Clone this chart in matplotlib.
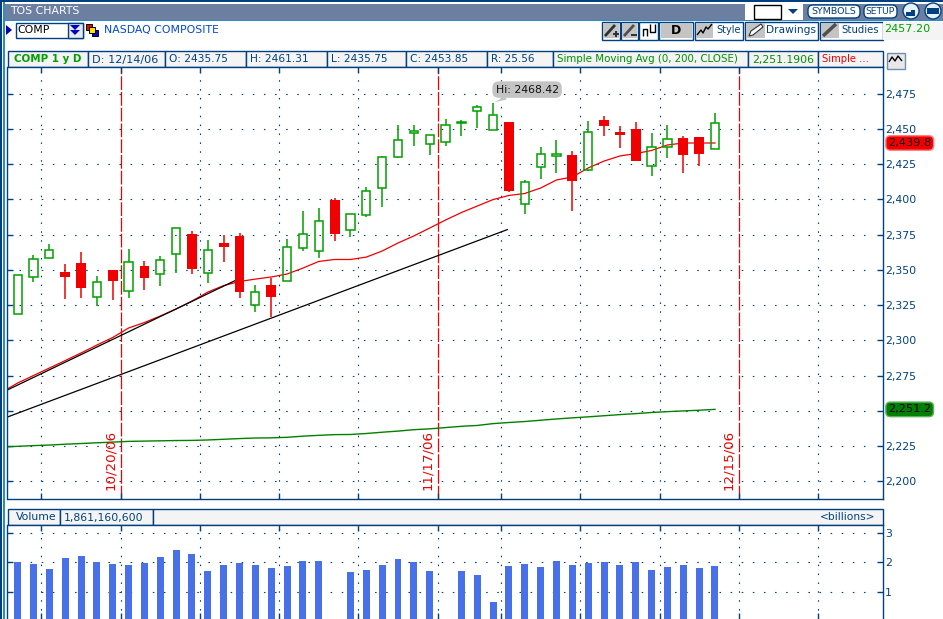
import matplotlib
matplotlib.use("Agg")
import matplotlib.pyplot as plt
from matplotlib.patches import Rectangle, FancyBboxPatch, Polygon, Circle

W, H = 943, 619
NAVY = "#004080"
UP = "#00A000"
DOWN = "#F00000"

opens = [2318.3, 2344.6, 2358.0, 2348.3, 2354.7, 2331.0, 2349.8, 2335.3, 2352.6, 2346.7,
         2360.9, 2375.3, 2347.4, 2368.9, 2373.9, 2324.7, 2339.1, 2341.7, 2365.6, 2363.5,
         2399.2, 2378.4, 2389.0, 2408.2, 2429.9, 2447.2, 2439.4, 2440.5, 2454.0, 2462.8,
         2449.3, 2454.5, 2396.8, 2423.0, 2430.6, 2431.1, 2420.9, 2455.9, 2447.4, 2449.5,
         2423.5, 2437.2, 2443.1, 2443.9, 2435.75]
closes = [2346.0, 2357.3, 2363.7, 2345.0, 2337.2, 2341.0, 2342.2, 2355.2, 2344.3, 2356.6,
          2379.3, 2350.7, 2363.7, 2366.3, 2334.4, 2333.9, 2330.9, 2365.8, 2375.5, 2384.8,
          2375.3, 2389.7, 2406.0, 2430.1, 2442.2, 2448.6, 2445.7, 2452.8, 2455.0, 2465.6,
          2459.9, 2405.8, 2412.4, 2432.3, 2431.8, 2412.9, 2447.9, 2451.9, 2445.5, 2427.0,
          2437.2, 2442.9, 2431.3, 2432.0, 2453.85]
highs = [2346.0, 2360.4, 2368.2, 2354.0, 2362.5, 2345.5, 2349.8, 2364.4, 2356.0, 2359.7,
         2379.3, 2377.2, 2371.0, 2374.6, 2376.0, 2339.1, 2344.3, 2371.5, 2391.4, 2393.5,
         2401.0, 2389.7, 2408.9, 2430.9, 2452.4, 2453.0, 2445.7, 2457.0, 2456.4, 2467.0,
         2468.42, 2454.5, 2414.0, 2436.8, 2441.7, 2434.4, 2455.7, 2459.2, 2451.7, 2455.0,
         2447.2, 2453.0, 2444.6, 2443.9, 2461.31]
lows = [2318.3, 2341.5, 2358.0, 2329.2, 2330.0, 2324.5, 2328.7, 2330.0, 2335.8, 2338.7,
        2347.9, 2347.2, 2340.8, 2355.7, 2330.1, 2320.2, 2316.7, 2341.7, 2363.2, 2358.3,
        2370.3, 2373.2, 2387.4, 2394.4, 2429.2, 2437.7, 2431.3, 2437.7, 2444.8, 2450.5,
        2449.3, 2405.0, 2389.5, 2414.3, 2418.6, 2392.0, 2420.0, 2444.8, 2436.3, 2427.0,
        2416.4, 2429.2, 2418.6, 2423.5, 2435.75]
# starts one bar left of the first candle so the lines run off the pane edge
sma_short = [2263.3, 2269.7, 2275.0, 2280.3, 2285.6, 2291.0, 2296.6, 2302.0, 2308.7, 2312.6,
             2317.2, 2322.2, 2327.8, 2334.2, 2338.8, 2341.7, 2343.4, 2344.9, 2347.0, 2351.2,
             2355.9, 2357.3, 2357.3, 2359.0, 2363.3, 2369.0, 2374.0, 2379.6, 2385.3, 2390.6,
             2395.2, 2399.8, 2402.7, 2404.1, 2408.0, 2413.7, 2415.8, 2422.2, 2427.1, 2430.7,
             2432.4, 2434.6, 2438.5, 2439.9, 2439.9, 2439.9]
sma_200 = [2224.3, 2224.8, 2225.3, 2225.7, 2226.3, 2226.8, 2227.3, 2227.8, 2228.3, 2228.5,
           2228.7, 2228.9, 2229.0, 2229.3, 2229.8, 2230.3, 2230.7, 2230.8, 2231.2, 2232.0,
           2232.6, 2233.1, 2233.2, 2233.9, 2234.8, 2235.6, 2236.6, 2237.2, 2238.1, 2239.0,
           2239.6, 2240.9, 2241.7, 2242.4, 2243.3, 2244.2, 2245.0, 2245.7, 2246.5, 2247.3,
           2248.0, 2248.8, 2249.4, 2249.9, 2250.4, 2251.0]
# two missing sessions are None
volume = [2.01, 1.94, 1.77, 2.15, 2.21, 2.01, 1.94, 1.91, 1.98, 2.18,
          2.42, 2.28, 1.71, 1.91, 1.98, 1.91, 1.81, 1.88, 2.05, 2.05,
          None, 1.67, 1.74, 1.91, 2.11, 2.01, 1.71, None, 1.71, 1.57,
          0.66, 1.88, 1.94, 1.84, 2.05, 1.91, 1.98, 2.01, 1.91, 2.01,
          1.74, 1.84, 1.91, 1.81, 1.88]
trend_upper_x = [-0.64, 14.2]
trend_upper_y = [2264.8, 2344.9]
trend_lower_x = [-0.64, 30.9]
trend_lower_y = [2245.6, 2378.5]

price_ticks = [2200, 2225, 2250, 2275, 2300, 2325, 2350, 2375, 2400, 2425, 2450, 2475]
volume_ticks = [1, 2, 3]
grid_x = [1.5, 11.5, 16.5, 21.5, 30.5, 35.5, 40.5, 50.5]
date_x = [6.5, 26.5, 45.5]
date_labels = ["10/20/06", "11/17/06", "12/15/06"]
header_cells = [(8, 88), (88, 165), (165, 246), (246, 327), (327, 406), (406, 487),
                (487, 553), (553, 748), (748, 818), (818, 882.5)]
header_text = ["COMP 1 y D", "D: 12/14/06", "O: 2435.75", "H: 2461.31", "L: 2435.75",
               "C: 2453.85", "R: 25.56", "Simple Moving Avg (0, 200, CLOSE)", "2,251.1906",
               "Simple ..."]
header_colors = [UP, NAVY, NAVY, NAVY, NAVY, NAVY, NAVY, "#009000", "#009000", DOWN]
header_sizes = [7.4, 8.1, 7.7, 7.7, 7.7, 7.7, 7.5, 7.4, 7.8, 7.2]

# bar index <-> pixel: x = 17.6 + 15.85 * i
XLIM = (-0.64, 54.57)


def pane(fig, left, top, right, bottom):
    return fig.add_axes([left / W, 1 - bottom / H, (right - left) / W, (bottom - top) / H])


def box(ax, x0, y0, x1, y1, fc="none", ec=NAVY, lw=1.0, z=2):
    ax.add_patch(Rectangle((x0, y0), x1 - x0, y1 - y0, fc=fc, ec=ec, lw=lw, zorder=z))


def pill(ax, x0, y0, x1, y1, fc, ec, pad=5):
    ax.add_patch(FancyBboxPatch((x0 + pad, y0 + pad), x1 - x0 - 2 * pad, y1 - y0 - 2 * pad,
                                boxstyle=f"round,pad={pad}", fc=fc, ec=ec, lw=1.0, zorder=3))


def icon_line(bg, xs, ys, color="#303030", lw=1.0):
    bg.plot(xs, ys, color=color, lw=lw, zorder=4, solid_capstyle="butt")


def draw_icons(bg):
    # rough versions of the toolbar glyphs
    icon_line(bg, [605, 615], [36, 25], lw=2)
    icon_line(bg, [613, 619], [34, 34], lw=1.4)
    icon_line(bg, [616, 616], [31, 37], lw=1.4)
    icon_line(bg, [624, 634], [36, 25], color="#505050", lw=2)
    icon_line(bg, [631, 637], [35, 35], lw=1.4)
    icon_line(bg, [643, 643, 647, 647], [36, 29, 29, 36], color="black")
    icon_line(bg, [650, 650, 655, 655], [24, 32, 32, 24], color="black")
    icon_line(bg, [697, 701, 703, 706, 708, 712], [35, 30, 33, 27, 29, 24], color="black")
    bg.add_patch(Polygon([(749, 36), (751, 31), (761, 24), (763, 27), (753, 35)],
                         fc="white", ec="#303030", lw=0.8, zorder=4))
    icon_line(bg, [823, 836], [36, 24], color="#505050", lw=2.5)
    icon_line(bg, [889, 892, 895, 898, 902], [62, 57, 61, 56, 61], color="black")


def draw_chrome(bg):
    bg.set_xlim(0, W)
    bg.set_ylim(H, 0)
    bg.axis("off")
    # frame stripes and title bar
    box(bg, 0, 0, 1.5, H, fc=NAVY, ec="none")
    box(bg, 3, 0, 5, H, fc="#2A8CC8", ec="none")
    box(bg, 0, 0, W, 1.5, fc=NAVY, ec="none")
    box(bg, 5, 4, W, 20, fc="#6C7FA0", ec="none")
    box(bg, 5, 20, W, 21, fc="#2A8CC8", ec="none")
    bg.text(10, 11.5, "TOS CHARTS", color="white", fontsize=7.8, va="center")

    # symbol box
    bg.add_patch(Polygon([(6, 25), (12, 30), (6, 35)], fc="#0000B0", ec="none"))
    box(bg, 15.5, 22.5, 82.5, 37.5, fc="white")
    box(bg, 67.5, 22.5, 82.5, 37.5, fc="#E8E8F0")
    bg.add_patch(Polygon([(70, 25), (80, 25), (75, 30)], fc="#0000C0", ec="none", zorder=3))
    bg.add_patch(Polygon([(70, 30), (80, 30), (75, 35)], fc="#0000C0", ec="none", zorder=3))
    bg.text(17, 30, "COMP", color="black", fontsize=7.8, va="center", zorder=3)
    box(bg, 85.5, 23.5, 91.5, 29.5, fc="#F00000", ec="black", lw=0.7)
    box(bg, 88.5, 26.5, 94.5, 32.5, fc="#FFE000", ec="black", lw=0.7, z=3)
    box(bg, 91.5, 29.5, 97.5, 35.5, fc="#0000E0", ec="black", lw=0.7, z=2.5)
    bg.text(104, 30, "NASDAQ COMPOSITE", color="#0048D0", fontsize=7.8, va="center")

    # title bar controls
    box(bg, 745, 4, 803, 20, fc="white", ec="none")
    box(bg, 753.5, 4.5, 780.5, 18.5, fc="white", ec="black", lw=1.0)
    bg.add_patch(Polygon([(788, 9), (798, 9), (793, 14)], fc=NAVY, ec="none", zorder=3))
    pill(bg, 808, 5, 860, 18, "white", NAVY)
    bg.text(834, 11.5, "SYMBOLS", color=NAVY, fontsize=6.8, ha="center", va="center", zorder=4)
    pill(bg, 864, 5, 897, 18, "white", NAVY)
    bg.text(880.5, 11.5, "SETUP", color=NAVY, fontsize=6.6, ha="center", va="center", zorder=4)
    for cx in (911, 933):
        bg.add_patch(Circle((cx, 11), 8, fc="#E8F0F8", ec=NAVY, lw=1.0, zorder=3))
    box(bg, 906, 10, 915, 16, fc=NAVY, ec="none", z=4)
    box(bg, 906, 6, 911, 12, fc="#E8F0F8", ec="none", z=4.5)
    box(bg, 927, 8, 939, 14, fc=NAVY, ec="none", z=4)

    # toolbar buttons
    for x0, x1 in [(601.5, 620), (621, 638), (639, 658), (659, 693), (694.5, 743), (744.5, 818), (819.5, 882.5)]:
        box(bg, x0, 21.5, x1, 39.5, fc="white")
    for x0, x1 in [(603, 619), (622, 637), (661, 692), (696, 713), (746, 765), (821, 839)]:
        box(bg, x0, 23, x1, 38, fc="#C4C4C4", ec="none", z=3)
    bg.text(676.5, 30.5, "D", color="black", fontsize=9, fontweight="bold", ha="center", va="center", zorder=4)
    bg.text(716, 30, "Style", color=NAVY, fontsize=7.0, va="center")
    bg.text(766, 30, "Drawings", color=NAVY, fontsize=7.7, va="center")
    bg.text(841, 30, "Studies", color=NAVY, fontsize=7.3, va="center")
    box(bg, 883, 21.5, 943, 39.5, fc="#F4F4F4", ec="none")
    bg.text(884, 28.5, "2457.20", color="#00A000", fontsize=8.0, va="center", zorder=3)
    draw_icons(bg)

    # study header row
    for (x0, x1), label, color, size in zip(header_cells, header_text, header_colors, header_sizes):
        box(bg, x0, 51, x1, 67, fc="#F4F4F4")
        bold = label.startswith("COMP")
        bg.text((x0 + x1) / 2 if bold else x0 + 4, 59.5, label, color=color, fontsize=size,
                fontweight="bold" if bold else "normal", ha="center" if bold else "left",
                va="center", zorder=3)
    box(bg, 886.5, 52.5, 904.5, 68.5, fc="#E8E8E8", ec="#7090B0")

    # volume header row
    for x0, x1 in [(8, 60), (60, 153), (153, 882.5)]:
        box(bg, x0, 509, x1, 525, fc="#F4F4F4")
    bg.text(16, 517.5, "Volume", color=NAVY, fontsize=7.8, va="center", zorder=3)
    bg.text(64, 517.5, "1,861,160,600", color=NAVY, fontsize=7.8, va="center", zorder=3)
    bg.text(875, 517.5, "<billions>", color=NAVY, fontsize=7.7, ha="right", va="center", zorder=3)


def style_pane(ax, yticks, labels):
    ax.set_xlim(*XLIM)
    for name in ("top", "left", "right", "bottom"):
        ax.spines[name].set_color(NAVY)
        ax.spines[name].set_linewidth(1.0)
    ax.yaxis.tick_right()
    ax.set_yticks(yticks, labels)
    ax.tick_params(axis="y", direction="in", length=4, width=1, color=NAVY, labelcolor=NAVY,
                   labelsize=7.8, pad=1.8, left=True)
    ax.tick_params(axis="x", direction="in", length=4, width=1, color=NAVY, top=True, labelbottom=False)
    ax.set_xticks(grid_x + date_x)
    # dotted grid stops short of both edges, as in the platform
    ax.hlines(yticks, XLIM[0] + 0.75, 53.6, colors=NAVY, lw=0.8, ls=(0, (1.4, 8.6)), zorder=1)
    ax.vlines(grid_x, *ax.get_ylim(), colors=NAVY, lw=0.8, ls=(0, (1.4, 6.6)), zorder=1)


def draw_price(ax):
    ax.set_ylim(2187.8, 2493.8)
    # the 2,250 label is hidden behind the last-value tag in the reference
    labels = ["" if p == 2250 else f"{p:,}" for p in price_ticks]
    style_pane(ax, price_ticks, labels)
    ax.vlines(date_x, *ax.get_ylim(), colors=DOWN, lw=0.9, ls=(0, (11, 1.6)), zorder=1.5)
    for x, label in zip(date_x, date_labels):
        ax.annotate(label, (x, 2194), xytext=(-2.5, 0), textcoords="offset points", rotation=90,
                    ha="right", va="bottom", color=DOWN, fontsize=9.6)

    xs = list(range(-1, 45))
    ax.plot(xs, sma_200, color="#008000", lw=1.0, zorder=2)
    ax.plot(xs, sma_short, color=DOWN, lw=0.9, zorder=2)
    ax.plot(trend_upper_x, trend_upper_y, color="black", lw=0.9, zorder=2.2)
    ax.plot(trend_lower_x, trend_lower_y, color="black", lw=0.9, zorder=2.2)

    for i, (o, h, l, c) in enumerate(zip(opens, highs, lows, closes)):
        top, bot = max(o, c), min(o, c)
        if c >= o:
            ax.vlines(i, top, h, colors=UP, lw=1.1, zorder=3)
            ax.vlines(i, l, bot, colors=UP, lw=1.1, zorder=3)
            ax.bar(i, top - bot, bottom=bot, width=0.52, fc="none", ec=UP, lw=1.1, zorder=3)
        else:
            ax.vlines(i, l, h, colors=DOWN, lw=1.1, zorder=3)
            ax.bar(i, top - bot, bottom=bot, width=0.62, color=DOWN, lw=0, zorder=3)

    ax.annotate("Hi: 2468.42", (30, highs[30]), xytext=(24.5, 9.5), textcoords="offset points",
                ha="center", va="center", color="#101010", fontsize=7.8,
                bbox=dict(boxstyle="round,pad=0.3,rounding_size=0.6", fc="#C4C4C4", ec="none"),
                arrowprops=dict(arrowstyle="wedge,tail_width=0.35", fc="#C4C4C4", ec="none",
                                shrinkA=0, shrinkB=1), zorder=5)

    # last-value tags sit in the tick label column
    tag_x = ax.get_yaxis_transform()
    ax.text(1.0064, sma_short[-1], "2,439.8", transform=tag_x, color="#200000", fontsize=8.2,
            va="center", clip_on=False,
            bbox=dict(boxstyle="round,pad=0.2,rounding_size=0.4", fc="#F00000", ec="#FF8080", lw=1), zorder=5)
    ax.text(1.0064, sma_200[-1], "2,251.2", transform=tag_x, color="black", fontsize=8.2,
            va="center", clip_on=False,
            bbox=dict(boxstyle="round,pad=0.2,rounding_size=0.4", fc="#008000", ec="#60B060", lw=1), zorder=5)


def draw_volume(ax):
    ax.set_ylim(0.08, 3.26)
    style_pane(ax, volume_ticks, [str(v) for v in volume_ticks])
    ax.vlines(date_x, *ax.get_ylim(), colors=NAVY, lw=0.8, ls=(0, (1.4, 6.6)), zorder=1)
    ax.spines["bottom"].set_visible(False)
    for i, v in enumerate(volume):
        if v is not None:
            ax.bar(i, v, width=0.44, color="#4870E8", lw=0, zorder=2)


def main() -> None:
    plt.rcParams["font.family"] = ["DejaVu Sans"]
    fig = plt.figure(figsize=(W / 100, H / 100), dpi=100, facecolor="white")
    bg = fig.add_axes([0, 0, 1, 1])
    draw_chrome(bg)

    price_ax = pane(fig, 7.5, 67, 882.5, 498.5)
    draw_price(price_ax)
    volume_ax = pane(fig, 7.5, 525, 882.5, 619)
    draw_volume(volume_ax)

    fig.savefig("out.png", dpi=100)


if __name__ == "__main__":
    main()
